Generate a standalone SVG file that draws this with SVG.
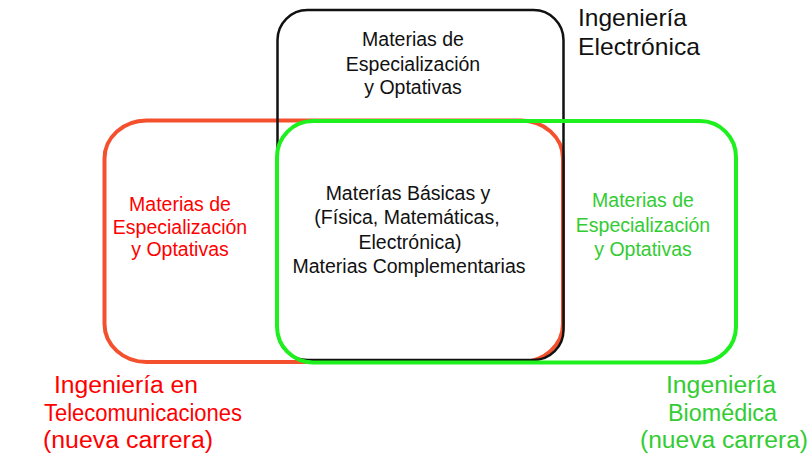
<svg xmlns="http://www.w3.org/2000/svg" width="809" height="454" viewBox="0 0 809 454">
<style>
  text { font-family: "Liberation Sans", Arial, sans-serif; }
  .box { fill: none; }
  .tb { font-size: 19.5px; fill: #111; text-anchor: middle; }
  .tr { font-size: 19.5px; fill: #ff0000; text-anchor: middle; }
  .tg { font-size: 19.5px; fill: #33cc33; text-anchor: middle; }
  .lb { font-size: 24px; fill: #111; }
  .lr { font-size: 23.5px; fill: #ff0000; }
  .lg { font-size: 23.5px; fill: #33cc33; }
</style>
<rect width="809" height="454" fill="#ffffff"/>
<g id="telecom">
  <rect class="box" x="104.5" y="120.5" width="458.5" height="241.5" rx="42" ry="38" stroke="#f4502e" stroke-width="4"/>
  <text class="tr" x="180" y="211">Materias de</text>
  <text class="tr" x="180" y="233.5">Especialización</text>
  <text class="tr" x="180" y="256">y Optativas</text>
  <text class="lr" x="54" y="393" textLength="144" lengthAdjust="spacingAndGlyphs">Ingeniería en</text>
  <text class="lr" x="44" y="421" textLength="198" lengthAdjust="spacingAndGlyphs">Telecomunicaciones</text>
  <text class="lr" x="43" y="448" textLength="170" lengthAdjust="spacingAndGlyphs">(nueva carrera)</text>
</g>
<g id="electronica">
  <rect class="box" x="277.5" y="10" width="286" height="350" rx="30" ry="30" stroke="#111" stroke-width="2.5"/>
  <text class="tb" x="413" y="46">Materias de</text>
  <text class="tb" x="413" y="70.5">Especialización</text>
  <text class="tb" x="413" y="94">y Optativas</text>
  <text class="lb" x="578" y="26" textLength="109" lengthAdjust="spacingAndGlyphs">Ingeniería</text>
  <text class="lb" x="578" y="55" textLength="122" lengthAdjust="spacingAndGlyphs">Electrónica</text>
</g>
<g id="biomedica">
  <rect class="box" x="277" y="121" width="459" height="241.5" rx="36" ry="36" stroke="#1ef01e" stroke-width="4"/>
  <text class="tg" x="643" y="207">Materias de</text>
  <text class="tg" x="643" y="231.5">Especialización</text>
  <text class="tg" x="643" y="256">y Optativas</text>
  <text class="lg" x="666" y="393" textLength="110" lengthAdjust="spacingAndGlyphs">Ingeniería</text>
  <text class="lg" x="668" y="421" textLength="109" lengthAdjust="spacingAndGlyphs">Biomédica</text>
  <text class="lg" x="640" y="448" textLength="168" lengthAdjust="spacingAndGlyphs">(nueva carrera)</text>
</g>
<g id="comun">
  <text class="tb" x="408" y="200">Materías Básicas y</text>
  <text class="tb" x="407" y="224">(Física, Matemáticas,</text>
  <text class="tb" x="410" y="249">Electrónica)</text>
  <text class="tb" x="409" y="273">Materias Complementarias</text>
</g>
<g id="connectors"></g>
</svg>
